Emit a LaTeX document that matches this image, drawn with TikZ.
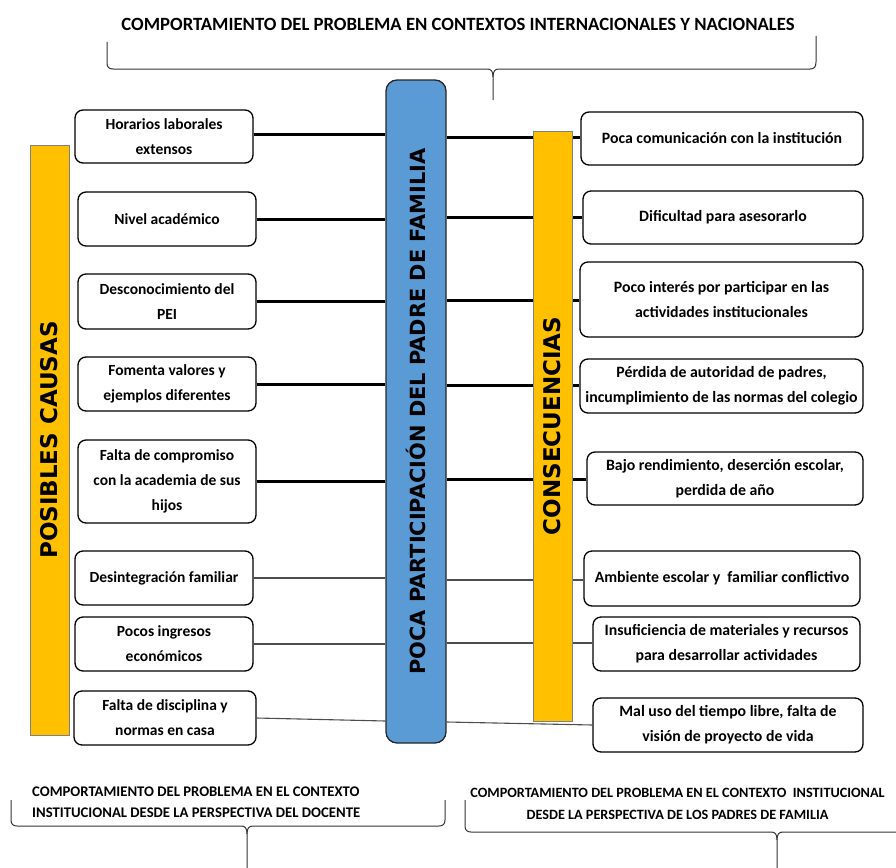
\documentclass[tikz,border=0pt]{standalone}
\usepackage{fontspec}
\setmainfont{Carlito}
\newfontfamily\vfont{DejaVu Sans}
\usetikzlibrary{positioning,calc}
\definecolor{barblue}{HTML}{5B9BD5}
\definecolor{baryellow}{HTML}{FFC000}
\definecolor{thingray}{HTML}{4D4D4D}
\tikzset{
  cbox/.style={draw=black, line width=1.3pt, fill=white, rounded corners=8pt, align=center, inner sep=2pt,
    font=\fontsize{15.5}{25}\selectfont\bfseries},
  rbox/.style={cbox, font=\fontsize{15.8}{25}\selectfont\bfseries},
  ybar/.style={draw=gray, line width=1pt, fill=baryellow, inner sep=0pt},
  thickln/.style={line width=3pt, black},
  thinln/.style={line width=1.1pt, thingray},
  bracel/.style={line width=1pt, black!80},
  ttl/.style={font=\fontsize{18.7}{22}\selectfont\bfseries, inner sep=0pt}
}
\begin{document}
\begin{tikzpicture}[x=1pt,y=-1pt]
\useasboundingbox (0,0) rectangle (896,867);

% title and braces
\node[ttl] (title) at (458,24) {COMPORTAMIENTO DEL PROBLEMA EN CONTEXTOS INTERNACIONALES Y NACIONALES};
\draw[bracel] (107,42) -- (107,63) .. controls (107,67) and (109,69) .. (113,69) -- (487,69)
  .. controls (491,69) and (493,71) .. (493,77) -- (493,100);
\draw[bracel] (493,77) .. controls (493,71) and (495,69) .. (499,69) -- (810,69)
  .. controls (814,69) and (816,67) .. (816,62) -- (816,36);

% central bar
\node[draw=black!85, line width=1.3pt, fill=barblue, rounded corners=11pt, minimum width=60pt, minimum height=663pt, inner sep=0pt] (core) at (416,411.5) {};
\node[rotate=90, font=\vfont\bfseries\fontsize{20.9}{24}\selectfont] at (core.center) {POCA PARTICIPACIÓN DEL PADRE DE FAMILIA};

% left boxes
\node[cbox, minimum width=178pt, minimum height=53pt] (L1) at (164,136.5) {Horarios laborales\\extensos};
\node[cbox, minimum width=178pt, minimum height=54pt] (L2) at (167,219) {Nivel académico};
\node[cbox, minimum width=178pt, minimum height=55pt] (L3) at (167,301.5) {Desconocimiento del\\PEI};
\node[cbox, minimum width=178pt, minimum height=54pt] (L4) at (167,384) {Fomenta valores y\\ejemplos diferentes};
\node[cbox, minimum width=178pt, minimum height=83pt] (L5) at (167,481.5) {Falta de compromiso\\con la academia de sus\\hijos};
\node[cbox, minimum width=178pt, minimum height=54pt] (L6) at (164,578) {Desintegración familiar};
\node[cbox, minimum width=178pt, minimum height=54pt] (L7) at (164,644) {Pocos ingresos\\económicos};
\node[cbox, minimum width=182pt, minimum height=54pt] (L8) at (165,718) {Falta de disciplina y\\normas en casa};

% right boxes
\node[rbox, minimum width=282pt, minimum height=53pt] (R1) at (722,138.5) {Poca comunicación con la institución};
\node[rbox, minimum width=280pt, minimum height=53pt] (R2) at (723,217.5) {Dificultad para asesorarlo};
\node[rbox, minimum width=283pt, minimum height=75pt] (R3) at (721.5,299.5) {Poco interés por participar en las\\actividades institucionales};
\node[rbox, minimum width=283pt, minimum height=54pt] (R4) at (721.5,386) {Pérdida de autoridad de padres,\\incumplimiento de las normas del colegio};
\node[rbox, minimum width=276pt, minimum height=53pt] (R5) at (725,478.5) {Bajo rendimiento, deserción escolar,\\perdida de año};
\node[rbox, minimum width=276pt, minimum height=55pt] (R6) at (722,578.5) {Ambiente escolar y\ \ familiar conflictivo};
\node[rbox, minimum width=267pt, minimum height=54pt] (R7) at (726.5,644) {Insuficiencia de materiales y recursos\\para desarrollar actividades};
\node[rbox, minimum width=270pt, minimum height=54pt] (R8) at (728,725) {Mal uso del tiempo libre, falta de\\visión de proyecto de vida};

% connectors (drawn before the yellow bars)
\draw[thickln] (L1.east |- 0,134) -- (core.west |- 0,134);
\draw[thickln] (L2.east) -- (L2.east -| core.west);
\draw[thickln] (L3.east) -- (L3.east -| core.west);
\draw[thickln] (L4.east) -- (L4.east -| core.west);
\draw[thickln] (L5.east) -- (L5.east -| core.west);
\draw[thinln] (L6.east) -- (L6.east -| core.west);
\draw[thinln] (L7.east) -- (L7.east -| core.west);
\coordinate (c8l) at (core.west |- 0,721);
\coordinate (c8r) at (core.east |- 0,722);
\draw[thinln] (L8.east) -- (c8l);

\draw[thickln] (core.east |- 0,137) -- (R1.west |- 0,137);
\draw[thickln] (R2.west -| core.east) -- (R2.west);
\draw[thickln] (core.east |- 0,300) -- (R3.west |- 0,300);
\draw[thickln] (core.east |- 0,385) -- (R4.west |- 0,385);
\draw[thickln] (core.east |- 0,479) -- (R5.west |- 0,479);
\draw[thinln] (core.east |- 0,580) -- (R6.west |- 0,580);
\draw[thinln] (core.east |- 0,643) -- (R7.west |- 0,643);
\draw[thinln] (c8r) -- (R8.west);

% yellow bars (drawn over the lines)
\node[ybar, minimum width=39pt, minimum height=590pt] (lbar) at (49.5,440) {};
\node[rotate=90, font=\vfont\bfseries\fontsize{23}{26}\selectfont] at (lbar.center) {POSIBLES CAUSAS};
\node[ybar, minimum width=39pt, minimum height=590pt] (rbar) at (552.5,426) {};
\node[rotate=90, font=\vfont\bfseries\fontsize{23}{26}\selectfont] at (rbar.center) {CONSECUENCIAS};

% bottom titles and braces
\node[font=\fontsize{14.7}{21}\selectfont\bfseries, inner sep=0pt, anchor=west, align=left] (bl) at (32,802.5) {COMPORTAMIENTO DEL PROBLEMA EN EL CONTEXTO\\INSTITUCIONAL DESDE LA PERSPECTIVA DEL DOCENTE};
\node[font=\fontsize{14.2}{22}\selectfont\bfseries, inner sep=0pt, align=center] (br) at (677.5,804) {COMPORTAMIENTO DEL PROBLEMA EN EL CONTEXTO\ \ INSTITUCIONAL\\DESDE LA PERSPECTIVA DE LOS PADRES DE FAMILIA};

\draw[bracel] (11,800) -- (11,820) .. controls (11,824) and (13,826) .. (17,826) -- (241,826)
  .. controls (245,826) and (247,828) .. (247,834) -- (247,870);
\draw[bracel] (247,834) .. controls (247,828) and (249,826) .. (253,826) -- (439,826)
  .. controls (443,826) and (445,824) .. (445,820) -- (445,800);

\draw[bracel] (465,800) -- (465,826) .. controls (465,830) and (467,832) .. (471,832) -- (771,832)
  .. controls (775,832) and (777,834) .. (777,840) -- (777,870);
\draw[bracel] (777,840) .. controls (777,834) and (779,832) .. (783,832) -- (900,832);
\end{tikzpicture}
\end{document}
